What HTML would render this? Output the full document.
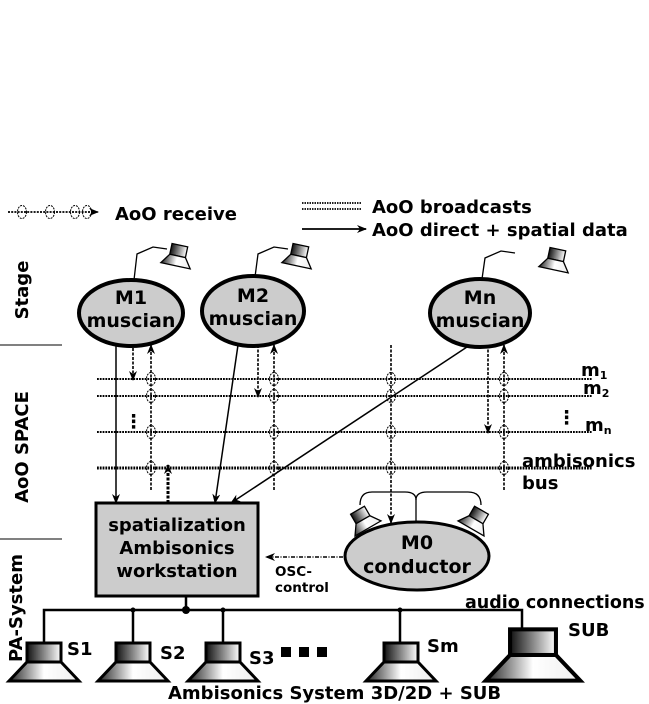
<!DOCTYPE html>
<html><head><meta charset="utf-8"><style>
html,body{margin:0;padding:0;background:#fff;}
svg{display:block;}
text{font-family:"DejaVu Sans","Liberation Sans",sans-serif;font-weight:bold;fill:#000;}
</style></head><body>
<svg width="649" height="704" viewBox="0 0 649 704" xmlns="http://www.w3.org/2000/svg">
<defs>
<linearGradient id="gd" x1="0" x2="1" y1="0" y2="0"><stop offset="0" stop-color="#111"/><stop offset="1" stop-color="#fff"/></linearGradient>
<linearGradient id="gl" x1="0" x2="1" y1="0" y2="0"><stop offset="0" stop-color="#222"/><stop offset="0.5" stop-color="#fff"/><stop offset="1" stop-color="#eee"/></linearGradient>
<marker id="ah" markerWidth="10" markerHeight="8" refX="9" refY="4" orient="auto" markerUnits="userSpaceOnUse"><path d="M0,0 L10,4 L0,8 L3,4 z" fill="#000"/></marker>
<g id="spk">
<rect x="-17" y="-19" width="34" height="19" fill="url(#gd)" stroke="#000" stroke-width="3"/>
<path d="M-17,0 L17,0 L35,19 L-35,19 z" fill="url(#gl)" stroke="#000" stroke-width="3"/>
</g>
<g id="sspk">
<rect x="-8" y="-9" width="16" height="11" fill="url(#gd)" stroke="#000" stroke-width="1.3"/>
<path d="M-8,2 L8,2 L15,12 L-15,12 z" fill="url(#gl)" stroke="#000" stroke-width="1.3"/>
</g>
<g id="cr"><ellipse rx="4.5" ry="6.5" fill="none" stroke="#000" stroke-width="1" stroke-dasharray="2,1"/></g>
</defs>

<!-- legend -->
<line x1="8" y1="212" x2="98" y2="212" stroke="#000" stroke-width="1.8" stroke-dasharray="2,1.2" marker-end="url(#ah)"/>
<use href="#cr" x="22" y="212"/><use href="#cr" x="50" y="212"/><use href="#cr" x="75" y="212"/><use href="#cr" x="87" y="212"/>
<text x="115" y="220" font-size="18">AoO receive</text>
<line x1="302" y1="203" x2="362" y2="203" stroke="#000" stroke-width="1.8" stroke-dasharray="1.5,1"/>
<line x1="302" y1="209" x2="362" y2="209" stroke="#000" stroke-width="1.8" stroke-dasharray="1.5,1"/>
<text x="372" y="213" font-size="18">AoO broadcasts</text>
<line x1="302" y1="229" x2="366" y2="229" stroke="#000" stroke-width="1.8" marker-end="url(#ah)"/>
<text x="372" y="236" font-size="18">AoO direct + spatial data</text>

<!-- side labels -->
<text transform="translate(28,290) rotate(-90)" font-size="18" text-anchor="middle">Stage</text>
<text transform="translate(28,447) rotate(-90)" font-size="18" text-anchor="middle">AoO SPACE</text>
<text transform="translate(22,608) rotate(-90)" font-size="18" text-anchor="middle">PA-System</text>
<line x1="0" y1="345" x2="62" y2="345" stroke="#000" stroke-width="1"/>
<line x1="0" y1="539" x2="62" y2="539" stroke="#000" stroke-width="1"/>

<!-- bus lines -->
<g stroke="#000" stroke-width="2" stroke-dasharray="1.8,1">
<line x1="97" y1="379" x2="592" y2="379"/>
<line x1="97" y1="396" x2="592" y2="396"/>
<line x1="97" y1="432" x2="592" y2="432"/>
<line x1="97" y1="468" x2="592" y2="468" stroke-width="3"/>
</g>
<g stroke="#000" stroke-width="1.6" stroke-dasharray="3,1.5">
<line x1="151" y1="490" x2="151" y2="345" marker-end="url(#ah)"/>
<line x1="274" y1="490" x2="274" y2="345" marker-end="url(#ah)"/>
<line x1="504" y1="490" x2="504" y2="345" marker-end="url(#ah)"/>
<line x1="391" y1="345" x2="391" y2="523" marker-end="url(#ah)"/>
<line x1="133" y1="348" x2="133" y2="380" marker-end="url(#ah)"/>
<line x1="258" y1="345" x2="258" y2="397" marker-end="url(#ah)"/>
<line x1="488" y1="345" x2="488" y2="433" marker-end="url(#ah)"/>
<line x1="168" y1="503" x2="168" y2="465" stroke-width="3" marker-end="url(#ah)"/>
</g>
<g>
<use href="#cr" x="151" y="379"/><use href="#cr" x="151" y="396"/><use href="#cr" x="151" y="432"/><use href="#cr" x="151" y="468"/>
<use href="#cr" x="274" y="379"/><use href="#cr" x="274" y="396"/><use href="#cr" x="274" y="432"/><use href="#cr" x="274" y="468"/>
<use href="#cr" x="391" y="379"/><use href="#cr" x="391" y="396"/><use href="#cr" x="391" y="432"/><use href="#cr" x="391" y="468"/>
<use href="#cr" x="504" y="379"/><use href="#cr" x="504" y="396"/><use href="#cr" x="504" y="432"/><use href="#cr" x="504" y="468"/>
</g>
<text x="124" y="428" font-size="19">⋮</text>
<text x="557" y="424" font-size="19">⋮</text>
<text x="581" y="376" font-size="18">m<tspan font-size="11" dy="3">1</tspan></text>
<text x="583" y="394" font-size="18">m<tspan font-size="11" dy="3">2</tspan></text>
<text x="585" y="431" font-size="18">m<tspan font-size="11" dy="3">n</tspan></text>
<text x="522" y="467" font-size="18">ambisonics</text>
<text x="522" y="489" font-size="18">bus</text>

<!-- solid arrows -->
<g stroke="#000" stroke-width="1.5">
<line x1="116" y1="345" x2="116" y2="503" marker-end="url(#ah)"/>
<line x1="238" y1="345" x2="215" y2="503" marker-end="url(#ah)"/>
<line x1="470" y1="345" x2="231" y2="503" marker-end="url(#ah)"/>
</g>

<!-- musicians -->
<g stroke="#000" stroke-width="1.3" fill="none">
<path d="M134,280 L137,254 L153,247 L167,249"/>
<path d="M255,277 L258,254 L274,247 L288,249"/>
<path d="M482,279 L485,258 L501,251 L515,253"/>
</g>
<use href="#sspk" transform="translate(178,254) rotate(12)"/>
<use href="#sspk" transform="translate(299,254) rotate(12)"/>
<use href="#sspk" transform="translate(556,258) rotate(12)"/>
<g fill="#ccc" stroke="#000" stroke-width="4">
<ellipse cx="131" cy="313" rx="52" ry="33"/>
<ellipse cx="253" cy="311" rx="51" ry="35"/>
<ellipse cx="480" cy="313" rx="50" ry="34"/>
</g>
<g font-size="19" text-anchor="middle">
<text x="131" y="304">M1</text><text x="131" y="327">muscian</text>
<text x="253" y="302">M2</text><text x="253" y="325">muscian</text>
<text x="480" y="304">Mn</text><text x="480" y="327">muscian</text>
</g>

<!-- workstation -->
<rect x="96" y="503" width="162" height="93" fill="#ccc" stroke="#000" stroke-width="3"/>
<g font-size="18" text-anchor="middle">
<text x="177" y="531">spatialization</text>
<text x="177" y="554">Ambisonics</text>
<text x="177" y="577">workstation</text>
</g>

<!-- conductor -->
<g stroke="#000" stroke-width="1.3" fill="none">
<path d="M416,523 L416,500 Q416,492 405,492 L372,492 Q360,492 360,505"/>
<path d="M416,500 Q416,492 427,492 L468,492 Q481,492 481,505"/>
</g>
<use href="#sspk" transform="translate(362,518) rotate(-30)"/>
<use href="#sspk" transform="translate(477,518) rotate(30)"/>
<ellipse cx="417" cy="556" rx="72" ry="34" fill="#ccc" stroke="#000" stroke-width="3"/>
<g font-size="19" text-anchor="middle">
<text x="417" y="549">M0</text><text x="417" y="573">conductor</text>
</g>
<line x1="343" y1="557" x2="266" y2="557" stroke="#000" stroke-width="1.5" stroke-dasharray="4,1.5,1,1.5" marker-end="url(#ah)"/>
<text x="275" y="576" font-size="13.5">OSC-</text>
<text x="275" y="592" font-size="13.5">control</text>

<!-- PA -->
<g stroke="#000" stroke-width="2.5" fill="none">
<line x1="186" y1="596" x2="186" y2="610"/>
<path d="M44,643 L44,610 L522,610 L522,628"/>
<line x1="133" y1="610" x2="133" y2="643"/>
<line x1="223" y1="610" x2="223" y2="643"/>
<line x1="400" y1="610" x2="400" y2="643"/>
</g>
<circle cx="186" cy="610" r="4"/><circle cx="133" cy="610" r="2.5"/><circle cx="223" cy="610" r="2.5"/><circle cx="400" cy="610" r="2.5"/>
<use href="#spk" x="44" y="662"/>
<use href="#spk" x="133" y="662"/>
<use href="#spk" x="223" y="662"/>
<use href="#spk" x="401" y="662"/>
<g transform="translate(533,655) scale(1.35,1.35)"><use href="#spk"/></g>
<g font-size="18">
<text x="67" y="655">S1</text><text x="160" y="659">S2</text><text x="249" y="664">S3</text>
<text x="427" y="652">Sm</text><text x="568" y="636">SUB</text>
<text x="465" y="608" font-size="17.5">audio connections</text>
<text x="168" y="699">Ambisonics System 3D/2D + SUB</text>
</g>
<rect x="281" y="647" width="10" height="10"/><rect x="299" y="647" width="10" height="10"/><rect x="317" y="647" width="10" height="10"/>
</svg>
</body></html>
